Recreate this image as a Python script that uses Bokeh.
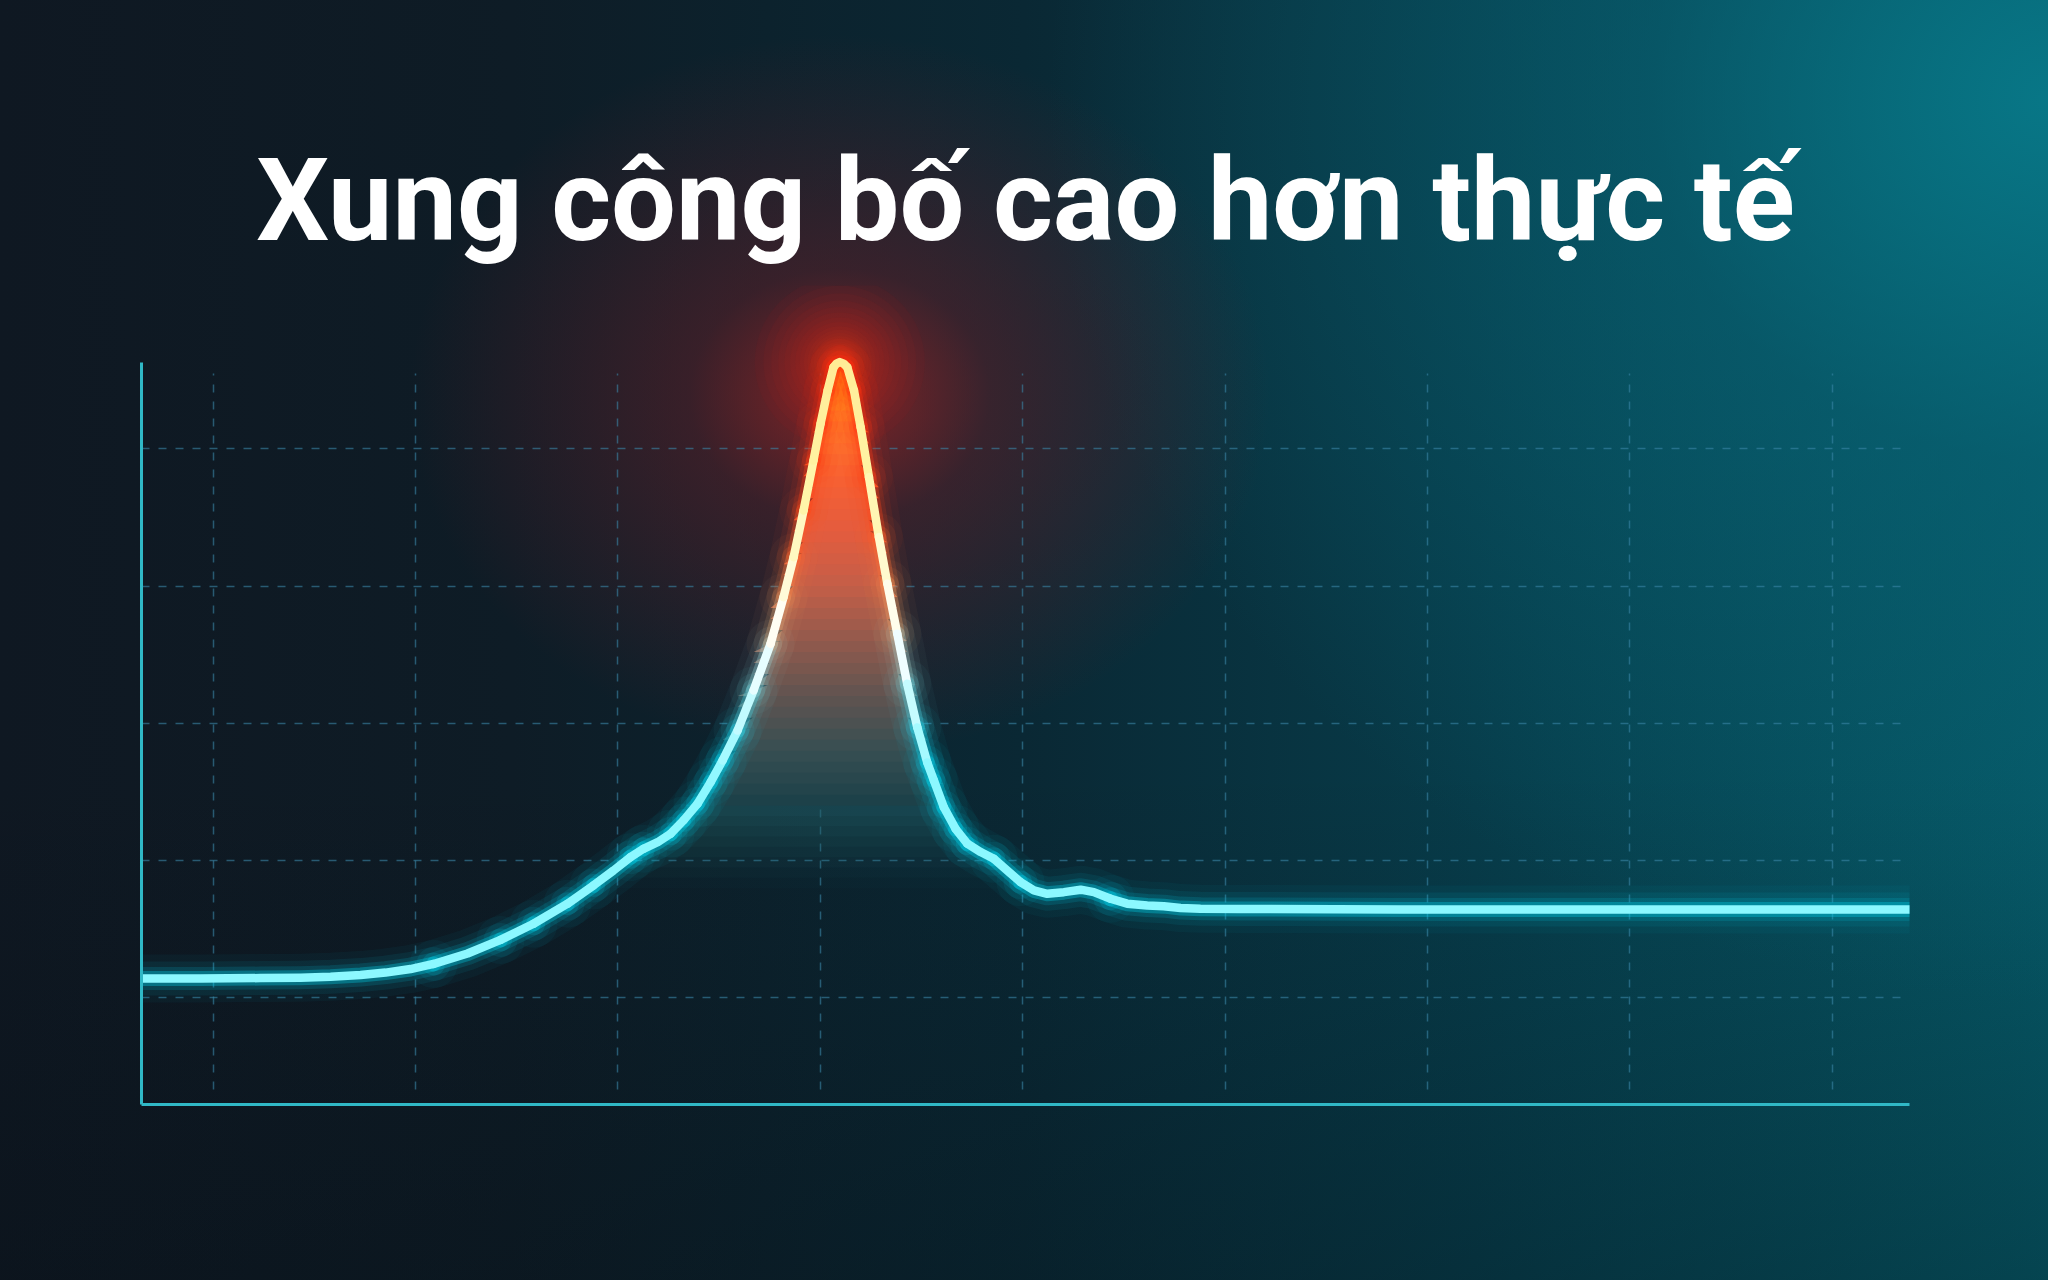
import numpy as np
from bokeh.plotting import figure
from bokeh.models import Range1d, FixedTicker, GlobalInlineStyleSheet, ColumnDataSource
from bokeh.embed import file_html
from bokeh.resources import INLINE

# ---------------- data ----------------
title_text = "Xung công bố cao hơn thực tế"

x_vals = [0.651, 0.938, 1.234, 1.432, 1.580, 1.728, 1.852, 1.975, 2.089, 2.257,
          2.420, 2.583, 2.751, 2.879, 2.978, 3.062, 3.126, 3.196, 3.260, 3.324,
          3.393, 3.458, 3.517, 3.591, 3.670, 3.754, 3.818, 3.868, 3.917, 3.966,
          4.001, 4.036, 4.065, 4.080, 4.096, 4.115, 4.133, 4.166, 4.199, 4.240,
          4.289, 4.331, 4.380, 4.429, 4.479, 4.528, 4.561, 4.610, 4.668, 4.726,
          4.792, 4.857, 4.923, 4.989, 5.055, 5.121, 5.203, 5.286, 5.351, 5.434,
          5.516, 5.615, 5.697, 5.780, 5.878, 6.076, 6.867, 7.855, 8.843, 9.381]
y_vals = [1.141, 1.141, 1.144, 1.147, 1.154, 1.166, 1.184, 1.210, 1.247, 1.323,
          1.422, 1.540, 1.686, 1.819, 1.928, 2.025, 2.086, 2.134, 2.196, 2.293,
          2.414, 2.572, 2.730, 2.948, 3.240, 3.580, 3.919, 4.211, 4.551, 4.915,
          5.183, 5.426, 5.595, 5.621, 5.632, 5.621, 5.595, 5.426, 5.158, 4.794,
          4.357, 4.017, 3.653, 3.289, 2.970, 2.715, 2.584, 2.389, 2.232, 2.123,
          2.062, 2.013, 1.928, 1.843, 1.783, 1.758, 1.770, 1.788, 1.770, 1.722,
          1.686, 1.673, 1.668, 1.654, 1.649, 1.648, 1.644, 1.644, 1.644, 1.644]

x_grid_ticks = [1, 2, 3, 4, 5, 6, 7, 8, 9]
y_grid_ticks = [1, 2, 3, 4, 5]

x_start, x_end = 0.646, 9.381
y_start, y_end = 0.223, 6.190
y_axis_top = 5.63

# ---------------- style helpers ----------------
def interp_rgb(v, stops):
    if v <= stops[0][0]:
        return stops[0][1]
    if v >= stops[-1][0]:
        return stops[-1][1]
    for (l0, c0), (l1, c1) in zip(stops[:-1], stops[1:]):
        if l0 <= v <= l1:
            t = (v - l0) / (l1 - l0)
            return tuple(c0[k] + (c1[k] - c0[k]) * t for k in range(len(c0)))
    return stops[-1][1]

def hexc(c):
    return "#%02x%02x%02x" % tuple(int(round(max(0, min(255, u)))) for u in c[:3])

core_stops = [(2.6, (140, 248, 255)), (3.2, (205, 252, 255)), (3.6, (255, 255, 255)),
              (4.2, (255, 250, 205)), (4.8, (255, 244, 165)), (5.6, (255, 236, 150))]
glow_stops = [(2.8, (0, 215, 240)), (3.4, (150, 215, 220)), (3.9, (255, 150, 80)),
              (4.5, (255, 70, 25)), (5.6, (255, 45, 15))]
low_fill_color = (38, 96, 104)
fill_stops = [(2.4, (26, 64, 72)), (2.8, (55, 78, 82)), (3.2, (96, 84, 80)), (3.6, (146, 89, 77)),
              (4.0, (196, 94, 72)), (4.4, (228, 92, 62)), (4.8, (248, 96, 50)),
              (5.2, (255, 122, 40)), (5.6, (255, 176, 20))]

bg_css = """
html {
  min-height: 100%;
  background-color: #0b1a24;
  background-image:
    radial-gradient(ellipse 430px 360px at 840px 395px, rgba(160,36,36,0.8) 0%, rgba(110,30,38,0.45) 35%, rgba(60,25,35,0) 100%),
    radial-gradient(ellipse 1000px 900px at 2048px 100px, rgba(8,122,138,0.9) 0%, rgba(8,102,120,0.5) 40%, rgba(8,80,95,0) 100%),
    linear-gradient(180deg, rgba(0,0,0,0) 60%, rgba(3,10,16,0.25) 100%),
    linear-gradient(90deg, #0f1822 0%, #0e1c26 25%, #0a2834 50%, #073c4a 72%, #065866 100%);
  background-repeat: no-repeat;
  background-size: 2048px 1280px;
}
body { background: transparent; }
"""

# ---------------- figure ----------------
W, H = 2032, 1264
p = figure(width=W, height=H, output_backend="svg", toolbar_location=None,
           x_range=Range1d(x_start, x_end), y_range=Range1d(y_start, y_end),
           min_border_left=141, min_border_right=123, min_border_top=285, min_border_bottom=160)
p.stylesheets = [GlobalInlineStyleSheet(css=bg_css)]
p.background_fill_alpha = 0
p.border_fill_alpha = 0
p.outline_line_color = None

p.title.text = title_text
p.title.align = "center"
p.title.text_font = "Roboto"
p.title.text_font_style = "bold"
p.title.text_font_size = "115px"
p.title.text_color = "#ffffff"
p.title.standoff = 35

for ax in (p.xaxis, p.yaxis):
    ax.ticker = FixedTicker(ticks=[])
    ax.major_label_standoff = 0
    ax.major_tick_line_color = None
    ax.minor_tick_line_color = None
    ax.major_tick_out = 0
    ax.major_tick_in = 0
    ax.axis_line_color = "#30b8c6"
    ax.axis_line_width = 3
p.yaxis.bounds = (y_start, y_axis_top)

p.xgrid.ticker = FixedTicker(ticks=x_grid_ticks)
p.ygrid.ticker = FixedTicker(ticks=y_grid_ticks)
for g in (p.xgrid, p.ygrid):
    g.grid_line_color = "#3a86a6"
    g.grid_line_alpha = 0.6
    g.grid_line_width = 1.5
    g.grid_line_dash = "8 9"
try:
    p.xgrid.cross_bounds = (0.33, 5.55)
except Exception:
    pass

X = np.array(x_vals, dtype=float)
Y = np.array(y_vals, dtype=float)

# halo around the peak
ip = int(np.argmax(Y))
halo_sizes = list(np.geomspace(170, 22, 20))
nh = len(halo_sizes)
halo_cols = [hexc(interp_rgb(i / (nh - 1), [(0, (175, 35, 30)), (1, (255, 70, 20))])) for i in range(nh)]
p.scatter(x=[X[ip]] * nh, y=[Y[ip]] * nh, size=halo_sizes, fill_color=halo_cols,
          fill_alpha=0.07, line_color=None)

# gradient fill under the pulse: soft nested layers at the bottom ...
low_top = 2.4
low_levels = np.linspace(1.8, low_top, 9)[:-1]
low_alphas = np.linspace(0.04, 0.16, len(low_levels))
for lo, a in zip(low_levels, low_alphas):
    p.varea(x=X, y1=np.full_like(Y, lo), y2=np.clip(Y, lo, low_top + 0.006),
            fill_color=hexc(low_fill_color), fill_alpha=float(a))
# ... and opaque bands above
step = 0.08
levels = np.arange(low_top, 5.7, step)
for lo in levels:
    hi = lo + step + 0.006
    p.varea(x=X, y1=np.full_like(Y, lo), y2=np.clip(Y, lo, hi),
            fill_color=hexc(interp_rgb(lo + step / 2, fill_stops)), fill_alpha=1.0)

# line split into colour chunks
seg_mid = (Y[:-1] + Y[1:]) / 2
q = np.round(seg_mid / 0.12).astype(int)
chunks = []
start = 0
for i in range(1, len(seg_mid)):
    if q[i] != q[i - 1]:
        chunks.append((start, i))
        start = i
chunks.append((start, len(seg_mid)))

xs = [list(X[a:b + 1]) for a, b in chunks]
ys = [list(Y[a:b + 1]) for a, b in chunks]
lv = [float(np.mean(seg_mid[a:b])) for a, b in chunks]
src = ColumnDataSource(dict(xs=xs, ys=ys,
                            glow=[hexc(interp_rgb(v, glow_stops)) for v in lv],
                            core=[hexc(interp_rgb(v, core_stops)) for v in lv]))

for w, a in [(48, 0.045), (34, 0.075), (23, 0.14), (15, 0.32)]:
    p.multi_line(xs="xs", ys="ys", source=src, line_color="glow", line_width=w,
                 line_alpha=a, line_cap="round", line_join="round")
p.multi_line(xs="xs", ys="ys", source=src, line_color="core", line_width=8.5,
             line_alpha=1.0, line_cap="round", line_join="round")

open("out.html", "w").write(file_html(p, INLINE))
